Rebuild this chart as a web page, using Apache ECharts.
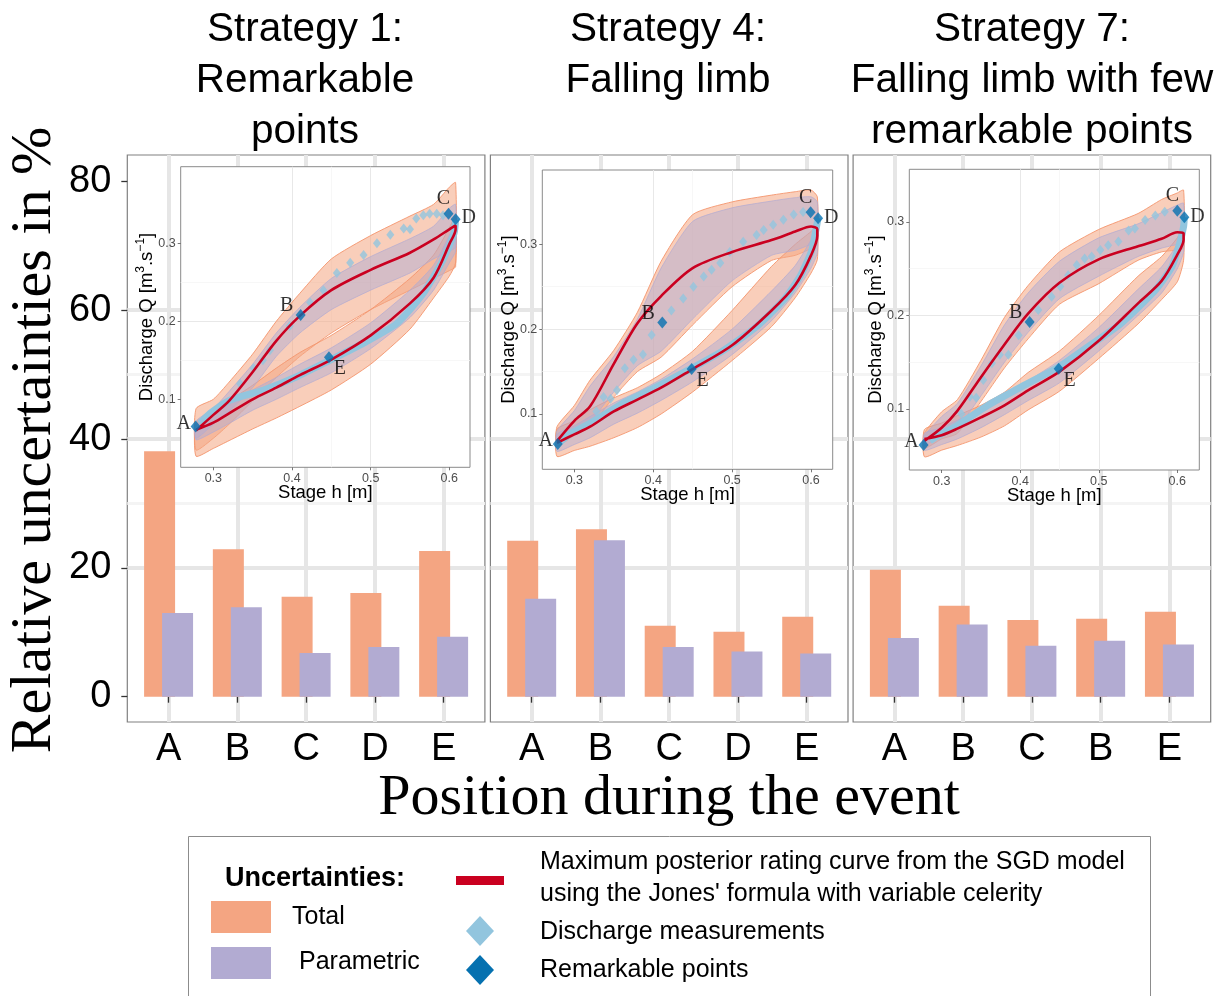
<!DOCTYPE html>
<html><head><meta charset="utf-8">
<script src="https://cdn.jsdelivr.net/npm/echarts@6/dist/echarts.min.js"></script>
<style>html,body{margin:0;padding:0;background:#fff}#c{width:1225px;height:996px}</style>
</head><body><div id="c"></div>
<script>
// ================= DATA =================
const categories = ['A','B','C','D','E'];
const tickLabels1 = ['A','B','C','D','E'];
const tickLabels4 = ['A','B','C','D','E'];
const tickLabels7 = ['A','B','C','B','E'];

const total1 = [38.1, 22.9, 15.5, 16.1, 22.6];
const param1 = [13.0, 13.9, 6.8, 7.7, 9.3];
const total4 = [24.2, 26.0, 11.0, 10.1, 12.4];
const param4 = [15.2, 24.3, 7.7, 7.0, 6.7];
const total7 = [19.7, 14.1, 11.9, 12.1, 13.2];
const param7 = [9.1, 11.2, 7.9, 8.7, 8.1];

const barTicks = [0, 20, 40, 60, 80];
const barMinorTicks = [10, 30, 50, 70];
const hTicks = [0.3, 0.4, 0.5, 0.6];
const hMinorTicks = [0.25, 0.35, 0.45, 0.55];
const qTicks = [0.1, 0.2, 0.3];
const qMinorTicks = [0.05, 0.15, 0.25, 0.35];

// stage grid used for rating curves and uncertainty bands (m)
const hGrid = [0.278, 0.30, 0.32, 0.35, 0.38, 0.41, 0.45, 0.50, 0.55, 0.58, 0.60, 0.608];

// ---- Strategy 1 inset ----
const redRise1   = [0.060, 0.080, 0.098, 0.135, 0.175, 0.207, 0.240, 0.266, 0.288, 0.305, 0.318, 0.323];
const redFall1   = [0.061, 0.070, 0.082, 0.100, 0.115, 0.131, 0.151, 0.182, 0.223, 0.256, 0.299, 0.318];
const totRiseLo1 = [0.035, 0.050, 0.068, 0.098, 0.128, 0.155, 0.185, 0.215, 0.240, 0.255, 0.265, 0.270];
const totRiseHi1 = [0.088, 0.100, 0.122, 0.158, 0.200, 0.236, 0.280, 0.310, 0.335, 0.350, 0.372, 0.378];
const parRiseLo1 = [0.050, 0.068, 0.085, 0.115, 0.155, 0.185, 0.215, 0.240, 0.262, 0.280, 0.290, 0.295];
const parRiseHi1 = [0.072, 0.088, 0.110, 0.145, 0.185, 0.218, 0.255, 0.283, 0.306, 0.322, 0.345, 0.350];
const totFallLo1 = [0.027, 0.037, 0.047, 0.062, 0.076, 0.091, 0.112, 0.145, 0.190, 0.230, 0.258, 0.275];
const totFallHi1 = [0.070, 0.085, 0.098, 0.118, 0.140, 0.160, 0.182, 0.215, 0.255, 0.285, 0.320, 0.335];
const parFallLo1 = [0.048, 0.058, 0.069, 0.086, 0.100, 0.115, 0.134, 0.165, 0.205, 0.240, 0.275, 0.290];
const parFallHi1 = [0.068, 0.080, 0.094, 0.112, 0.128, 0.145, 0.166, 0.198, 0.240, 0.272, 0.310, 0.326];
const measUpH1 = [0.290, 0.334, 0.351, 0.363, 0.372, 0.397, 0.423, 0.440, 0.457, 0.474, 0.491, 0.508, 0.525, 0.542, 0.550, 0.558, 0.567, 0.575, 0.584, 0.592];
const measUpQ1 = [0.075, 0.120, 0.140, 0.150, 0.163, 0.194, 0.224, 0.240, 0.262, 0.275, 0.285, 0.300, 0.311, 0.319, 0.318, 0.332, 0.336, 0.338, 0.338, 0.336];
const measDnH1 = [0.283, 0.296, 0.321, 0.364, 0.406, 0.448, 0.491, 0.533, 0.567, 0.592, 0.606, 0.608];
const measDnQ1 = [0.069, 0.082, 0.099, 0.112, 0.129, 0.150, 0.172, 0.197, 0.236, 0.279, 0.313, 0.330];
const remH1 = [0.2775, 0.411, 0.599, 0.608, 0.447];
const remQ1 = [0.065, 0.208, 0.338, 0.331, 0.154];

// ---- Strategy 4 inset ----
const redRise4   = [0.068, 0.092, 0.109, 0.159, 0.207, 0.239, 0.272, 0.291, 0.305, 0.315, 0.321, 0.318];
const redFall4   = [0.066, 0.076, 0.085, 0.103, 0.117, 0.131, 0.153, 0.181, 0.222, 0.252, 0.287, 0.310];
const totRiseLo4 = [0.062, 0.075, 0.085, 0.120, 0.150, 0.167, 0.205, 0.250, 0.281, 0.287, 0.295, 0.300];
const totRiseHi4 = [0.085, 0.110, 0.140, 0.175, 0.220, 0.280, 0.335, 0.350, 0.358, 0.362, 0.364, 0.356];
const parRiseLo4 = [0.066, 0.080, 0.091, 0.126, 0.157, 0.174, 0.212, 0.257, 0.287, 0.293, 0.300, 0.305];
const parRiseHi4 = [0.080, 0.104, 0.133, 0.168, 0.212, 0.272, 0.327, 0.343, 0.351, 0.355, 0.356, 0.350];
const totFallLo4 = [0.050, 0.057, 0.062, 0.072, 0.084, 0.100, 0.126, 0.163, 0.203, 0.237, 0.266, 0.282];
const totFallHi4 = [0.082, 0.092, 0.105, 0.119, 0.131, 0.147, 0.174, 0.222, 0.274, 0.300, 0.315, 0.322];
const parFallLo4 = [0.056, 0.064, 0.072, 0.088, 0.101, 0.116, 0.138, 0.170, 0.210, 0.243, 0.272, 0.290];
const parFallHi4 = [0.076, 0.086, 0.097, 0.113, 0.126, 0.141, 0.165, 0.200, 0.245, 0.275, 0.305, 0.318];
const measUpH4 = [0.328, 0.337, 0.346, 0.354, 0.364, 0.375, 0.387, 0.398, 0.423, 0.438, 0.451, 0.464, 0.474, 0.485, 0.497, 0.514, 0.531, 0.540, 0.552, 0.565, 0.578, 0.590];
const measUpQ4 = [0.103, 0.120, 0.118, 0.128, 0.154, 0.164, 0.170, 0.193, 0.222, 0.236, 0.250, 0.262, 0.270, 0.278, 0.291, 0.303, 0.311, 0.317, 0.323, 0.329, 0.335, 0.338];
const measDnH4 = [0.282, 0.295, 0.320, 0.362, 0.404, 0.449, 0.489, 0.531, 0.565, 0.586, 0.601, 0.607, 0.609];
const measDnQ4 = [0.067, 0.077, 0.089, 0.113, 0.132, 0.154, 0.175, 0.203, 0.234, 0.262, 0.293, 0.321, 0.331];
const remH4 = [0.279, 0.4115, 0.5995, 0.609, 0.4487];
const remQ4 = [0.0646, 0.2077, 0.3377, 0.3307, 0.153];

// ---- Strategy 7 inset ----
const redRise7   = [0.066, 0.080, 0.098, 0.134, 0.169, 0.202, 0.235, 0.260, 0.274, 0.282, 0.289, 0.288];
const redFall7   = [0.068, 0.072, 0.079, 0.091, 0.104, 0.120, 0.140, 0.173, 0.213, 0.237, 0.265, 0.281];
const totRiseLo7 = [0.058, 0.068, 0.074, 0.108, 0.144, 0.175, 0.212, 0.234, 0.259, 0.268, 0.270, 0.272];
const totRiseHi7 = [0.074, 0.097, 0.110, 0.152, 0.198, 0.232, 0.268, 0.292, 0.309, 0.324, 0.331, 0.334];
const parRiseLo7 = [0.061, 0.072, 0.080, 0.114, 0.150, 0.182, 0.218, 0.242, 0.263, 0.272, 0.276, 0.278];
const parRiseHi7 = [0.071, 0.092, 0.106, 0.146, 0.190, 0.224, 0.258, 0.283, 0.298, 0.310, 0.318, 0.320];
const totFallLo7 = [0.049, 0.056, 0.061, 0.070, 0.082, 0.099, 0.119, 0.154, 0.191, 0.217, 0.236, 0.259];
const totFallHi7 = [0.078, 0.085, 0.093, 0.104, 0.118, 0.139, 0.162, 0.200, 0.242, 0.263, 0.283, 0.295];
const parFallLo7 = [0.056, 0.062, 0.068, 0.080, 0.094, 0.109, 0.128, 0.162, 0.200, 0.224, 0.250, 0.268];
const parFallHi7 = [0.074, 0.080, 0.088, 0.099, 0.112, 0.130, 0.152, 0.187, 0.228, 0.252, 0.276, 0.290];
const measUpH7 = [0.325, 0.336, 0.344, 0.353, 0.364, 0.374, 0.385, 0.398, 0.423, 0.440, 0.451, 0.461, 0.472, 0.482, 0.491, 0.502, 0.512, 0.525, 0.538, 0.546, 0.559, 0.572, 0.584];
const measUpQ7 = [0.095, 0.113, 0.112, 0.131, 0.149, 0.158, 0.158, 0.179, 0.206, 0.220, 0.231, 0.243, 0.254, 0.261, 0.263, 0.270, 0.275, 0.279, 0.291, 0.293, 0.302, 0.307, 0.311];
const measDnH7 = [0.285, 0.292, 0.317, 0.359, 0.402, 0.449, 0.487, 0.529, 0.572, 0.593, 0.603, 0.608, 0.609];
const measDnQ7 = [0.066, 0.070, 0.081, 0.104, 0.124, 0.145, 0.167, 0.192, 0.227, 0.252, 0.277, 0.295, 0.305];
const remH7 = [0.277, 0.412, 0.600, 0.609, 0.449];
const remQ7 = [0.0615, 0.193, 0.312, 0.305, 0.143];

const remLetters = ['A','B','C','D','E'];

// ================= STYLE / LAYOUT =================
const C_TOTAL = '#f4a582', C_PARAM = '#b2abd2', C_RED = '#ca0020', C_LB = '#92c5de', C_DB = '#0571b0';
const SANS = 'Liberation Sans', SERIF = 'Liberation Serif';
const labelOffsets = { A: [-12, -3], B: [-14, -9], C: [-5, -15], D: [13, -1], E: [11, 12] };

const panels = [
  { title: 'Strategy 1:\nRemarkable\npoints', titleX: 305, bgLeft: 127.3, barLeft: 134.2,
    inset: { left: 180.7, top: 166.7, width: 289.3, height: 300.6 }, hRange: [0.2585, 0.6263], qRange: [0.0128, 0.3983],
    ticks: tickLabels1, total: total1, param: param1,
    d: { redRise: redRise1, redFall: redFall1, totRiseLo: totRiseLo1, totRiseHi: totRiseHi1, parRiseLo: parRiseLo1, parRiseHi: parRiseHi1,
         totFallLo: totFallLo1, totFallHi: totFallHi1, parFallLo: parFallLo1, parFallHi: parFallHi1,
         upH: measUpH1, upQ: measUpQ1, dnH: measDnH1, dnQ: measDnQ1, remH: remH1, remQ: remQ1 } },
  { title: 'Strategy 4:\nFalling limb', titleX: 668, bgLeft: 490.4, barLeft: 497.3,
    inset: { left: 542.3, top: 170, width: 290.4, height: 299.3 }, hRange: [0.2594, 0.6275], qRange: [0.0348, 0.3876],
    ticks: tickLabels4, total: total4, param: param4,
    d: { redRise: redRise4, redFall: redFall4, totRiseLo: totRiseLo4, totRiseHi: totRiseHi4, parRiseLo: parRiseLo4, parRiseHi: parRiseHi4,
         totFallLo: totFallLo4, totFallHi: totFallHi4, parFallLo: parFallLo4, parFallHi: parFallHi4,
         upH: measUpH4, upQ: measUpQ4, dnH: measDnH4, dnQ: measDnQ4, remH: remH4, remQ: remQ4 } },
  { title: 'Strategy 7:\nFalling limb with few\nremarkable points', titleX: 1032, bgLeft: 853.1, barLeft: 860.0,
    inset: { left: 909.3, top: 169.3, width: 290, height: 300.7 }, hRange: [0.2588, 0.628], qRange: [0.0348, 0.3563],
    ticks: tickLabels7, total: total7, param: param7,
    d: { redRise: redRise7, redFall: redFall7, totRiseLo: totRiseLo7, totRiseHi: totRiseHi7, parRiseLo: parRiseLo7, parRiseHi: parRiseHi7,
         totFallLo: totFallLo7, totFallHi: totFallHi7, parFallLo: parFallLo7, parFallHi: parFallHi7,
         upH: measUpH7, upQ: measUpQ7, dnH: measDnH7, dnQ: measDnQ7, remH: remH7, remQ: remQ7 } }
];
const PANEL_TOP = 155, PANEL_H = 567, PANEL_W = 357.6, BAR_W = 343.8;
const Y_RANGE = [-3.93, 84.1];

const grid = [], xAxis = [], yAxis = [], series = [], title = [];

function hiddenAxis(extra) {
  return Object.assign({ axisLine: { show: false }, axisTick: { show: false }, axisLabel: { show: false }, splitLine: { show: false } }, extra);
}

function band(xi, yi, lo, hi, fill, stroke, z) {
  return {
    type: 'custom', xAxisIndex: xi, yAxisIndex: yi, z: z, silent: true, clip: false,
    data: [[hGrid[0], lo[0]]],
    renderItem: function (params, api) {
      const pts = [];
      for (let i = 0; i < hGrid.length; i++) pts.push(api.coord([hGrid[i], lo[i]]));
      for (let i = hGrid.length - 1; i >= 0; i--) pts.push(api.coord([hGrid[i], hi[i]]));
      return { type: 'polygon', shape: { points: pts, smooth: 0.2 }, style: { fill: fill, stroke: stroke, lineWidth: 1 } };
    }
  };
}

panels.forEach(function (p, k) {
  // ---- background panel (border + horizontal grid) ----
  const gBg = grid.length;
  grid.push({ left: p.bgLeft, top: PANEL_TOP, width: PANEL_W, height: PANEL_H, show: true, borderColor: '#808080', borderWidth: 1.2, backgroundColor: '#fff', containLabel: false, outerBoundsMode: 'none', z: 0 });
  const xBg = xAxis.length;
  xAxis.push(hiddenAxis({ type: 'value', gridIndex: gBg, min: 0, max: 1, position: 'bottom' }));
  const yBgMinor = yAxis.length;
  yAxis.push({ type: 'value', gridIndex: gBg, min: Y_RANGE[0], max: Y_RANGE[1], z: 0, position: 'left', offset: 0,
    axisLine: { show: false }, axisLabel: { show: false, customValues: barMinorTicks },
    axisTick: { show: false, customValues: barMinorTicks },
    splitLine: { show: true, showMinLine: false, showMaxLine: false, lineStyle: { color: '#f4f4f4', width: 3 } } });
  const yBg = yAxis.length;
  yAxis.push({ type: 'value', gridIndex: gBg, min: Y_RANGE[0], max: Y_RANGE[1], z: 0, position: 'left', offset: 0,
    axisLine: { show: false },
    axisTick: { show: k === 0, length: 6, customValues: barTicks, lineStyle: { color: '#333', width: 1.3 } },
    axisLabel: { show: k === 0, customValues: barTicks, margin: 16, fontSize: 38, fontFamily: SANS, color: '#000', showMinLabel: true, showMaxLabel: true },
    splitLine: { show: true, showMinLine: false, showMaxLine: false, lineStyle: { color: '#e6e6e6', width: 4 } } });
  series.push({ type: 'line', xAxisIndex: xBg, yAxisIndex: yBg, data: [], silent: true });
  series.push({ type: 'line', xAxisIndex: xBg, yAxisIndex: yBgMinor, data: [], silent: true });

  // ---- bar grid ----
  const gBar = grid.length;
  grid.push({ left: p.barLeft, top: PANEL_TOP, width: BAR_W, height: PANEL_H, show: false, containLabel: false, outerBoundsMode: 'none' });
  const xBar = xAxis.length;
  const labels = p.ticks;
  xAxis.push({ type: 'category', gridIndex: gBar, data: categories, z: 1, position: 'bottom',
    axisLine: { show: false },
    axisTick: { show: true, alignWithLabel: true, length: 6, lineStyle: { color: '#333', width: 1.3 } },
    axisLabel: { margin: 9, fontSize: 38, fontFamily: SANS, color: '#000', formatter: function (v, i) { return labels[i]; } },
    splitLine: { show: true, alignWithLabel: true, lineStyle: { color: '#e6e6e6', width: 4 } } });
  const yBar = yAxis.length;
  yAxis.push(hiddenAxis({ type: 'value', gridIndex: gBar, min: Y_RANGE[0], max: Y_RANGE[1], position: 'left' }));
  series.push({ type: 'bar', name: 'Total', xAxisIndex: xBar, yAxisIndex: yBar, data: p.total, barWidth: 31, barGap: '-42%', itemStyle: { color: C_TOTAL }, z: 2, silent: true });
  series.push({ type: 'bar', name: 'Parametric', xAxisIndex: xBar, yAxisIndex: yBar, data: p.param, barWidth: 31, barGap: '-42%', itemStyle: { color: C_PARAM }, z: 2, silent: true });

  // ---- inset ----
  const gIn = grid.length;
  grid.push({ left: p.inset.left, top: p.inset.top, width: p.inset.width, height: p.inset.height, show: true,
    backgroundColor: '#fff', borderColor: '#8a8a8a', borderWidth: 1, containLabel: false, outerBoundsMode: 'none', z: 3 });
  const xInMinor = xAxis.length;
  xAxis.push({ type: 'value', gridIndex: gIn, min: p.hRange[0], max: p.hRange[1], z: 4, position: 'bottom', offset: 0,
    axisLine: { show: false }, axisLabel: { show: false, customValues: hMinorTicks }, axisTick: { show: false, customValues: hMinorTicks },
    splitLine: { show: true, showMinLine: false, showMaxLine: false, lineStyle: { color: '#f5f5f5', width: 0.8 } } });
  const xIn = xAxis.length;
  xAxis.push({ type: 'value', gridIndex: gIn, min: p.hRange[0], max: p.hRange[1], z: 4, position: 'bottom', offset: 0,
    name: 'Stage h [m]', nameLocation: 'middle', nameGap: 16, nameMoveOverlap: false,
    nameTextStyle: { fontSize: 18.5, fontFamily: SANS, color: '#000', verticalAlign: 'top' },
    axisLine: { show: false },
    axisTick: { show: true, length: 3, customValues: hTicks, lineStyle: { color: '#555', width: 0.8 } },
    axisLabel: { customValues: hTicks, margin: 5, fontSize: 12.5, fontFamily: SANS, color: '#4d4d4d', formatter: function (v) { return v.toFixed(1); } },
    splitLine: { show: true, showMinLine: false, showMaxLine: false, lineStyle: { color: '#e8e8e8', width: 1 } } });
  const yInMinor = yAxis.length;
  yAxis.push({ type: 'value', gridIndex: gIn, min: p.qRange[0], max: p.qRange[1], z: 4, position: 'left', offset: 0,
    axisLine: { show: false }, axisLabel: { show: false, customValues: qMinorTicks }, axisTick: { show: false, customValues: qMinorTicks },
    splitLine: { show: true, showMinLine: false, showMaxLine: false, lineStyle: { color: '#f5f5f5', width: 0.8 } } });
  const yIn = yAxis.length;
  yAxis.push({ type: 'value', gridIndex: gIn, min: p.qRange[0], max: p.qRange[1], z: 4, position: 'left', offset: 0,
    name: '{n|Discharge Q [m}{s|3}{n|.s}{s|\u22121}{n|]}', nameLocation: 'middle', nameRotate: 90, nameGap: 24, nameMoveOverlap: false,
    nameTextStyle: { fontFamily: SANS, color: '#000', verticalAlign: 'bottom',
      rich: { n: { fontSize: 18.5, fontFamily: SANS, color: '#000', lineHeight: 22, verticalAlign: 'bottom' },
              s: { fontSize: 12, fontFamily: SANS, color: '#000', lineHeight: 22, verticalAlign: 'top' } } },
    axisLine: { show: false },
    axisTick: { show: true, length: 3, customValues: qTicks, lineStyle: { color: '#555', width: 0.8 } },
    axisLabel: { customValues: qTicks, margin: 5, fontSize: 12.5, fontFamily: SANS, color: '#4d4d4d', formatter: function (v) { return v.toFixed(1); } },
    splitLine: { show: true, showMinLine: false, showMaxLine: false, lineStyle: { color: '#e8e8e8', width: 1 } } });
  series.push({ type: 'line', xAxisIndex: xInMinor, yAxisIndex: yInMinor, data: [], silent: true });

  const d = p.d;
  series.push(band(xIn, yIn, d.totRiseLo, d.totRiseHi, 'rgba(244,165,130,0.55)', 'rgba(244,150,110,0.9)', 5));
  series.push(band(xIn, yIn, d.totFallLo, d.totFallHi, 'rgba(244,165,130,0.55)', 'rgba(244,150,110,0.9)', 5));
  series.push(band(xIn, yIn, d.parRiseLo, d.parRiseHi, 'rgba(178,171,210,0.5)', 'rgba(178,171,210,0.7)', 5));
  series.push(band(xIn, yIn, d.parFallLo, d.parFallHi, 'rgba(178,171,210,0.5)', 'rgba(178,171,210,0.7)', 5));

  series.push({ type: 'line', xAxisIndex: xIn, yAxisIndex: yIn, z: 6, silent: true, showSymbol: false, smooth: 0.2,
    data: d.dnH.map(function (h, i) { return [h, d.dnQ[i]]; }), lineStyle: { color: C_LB, width: 7 } });
  series.push({ type: 'scatter', xAxisIndex: xIn, yAxisIndex: yIn, z: 6, silent: true, symbol: 'diamond', symbolSize: [8, 10],
    data: d.upH.map(function (h, i) { return [h, d.upQ[i]]; }), itemStyle: { color: C_LB } });

  const loop = hGrid.map(function (h, i) { return [h, d.redRise[i]]; })
    .concat(hGrid.map(function (h, i) { return [h, d.redFall[i]]; }).reverse());
  series.push({ type: 'line', xAxisIndex: xIn, yAxisIndex: yIn, z: 7, silent: true, showSymbol: false, smooth: 0.3,
    data: loop, lineStyle: { color: C_RED, width: 2.6 } });

  series.push({ type: 'scatter', xAxisIndex: xIn, yAxisIndex: yIn, z: 8, silent: true, symbol: 'diamond', symbolSize: [10, 12],
    itemStyle: { color: C_DB },
    label: { show: true, position: 'inside', formatter: '{b}', fontFamily: SERIF, fontSize: 20, color: '#000' },
    data: remLetters.map(function (L, i) { return { name: L, value: [d.remH[i], d.remQ[i]], label: { offset: labelOffsets[L] } }; }) });

  title.push({ text: p.title, left: p.titleX, top: 4, textAlign: 'center', padding: 0,
    textStyle: { fontFamily: SANS, fontSize: 40.5, fontWeight: 'normal', color: '#000', lineHeight: 51, align: 'center' } });
});

const graphic = [
  { type: 'text', x: 35, y: 440, rotation: Math.PI / 2, z: 10,
    style: { text: 'Relative uncertainties in %', font: '58px "Liberation Serif"', fill: '#000', align: 'center', verticalAlign: 'middle' } },
  { type: 'text', x: 669, y: 799, z: 10,
    style: { text: 'Position during the event', font: '58px "Liberation Serif"', fill: '#000', align: 'center', verticalAlign: 'middle' } },
  // legend
  { type: 'rect', z: 10, shape: { x: 188.5, y: 836.5, width: 962, height: 180 }, style: { fill: '#fff', stroke: '#8c8c8c', lineWidth: 1 } },
  { type: 'text', x: 225, y: 879, z: 11, style: { text: 'Uncertainties:', font: 'bold 27px "Liberation Sans"', fill: '#000', verticalAlign: 'middle' } },
  { type: 'rect', z: 11, shape: { x: 211, y: 901, width: 60, height: 32 }, style: { fill: C_TOTAL } },
  { type: 'text', x: 292, y: 917, z: 11, style: { text: 'Total', font: '25px "Liberation Sans"', fill: '#000', verticalAlign: 'middle' } },
  { type: 'rect', z: 11, shape: { x: 211, y: 947, width: 60, height: 32 }, style: { fill: C_PARAM } },
  { type: 'text', x: 299, y: 962, z: 11, style: { text: 'Parametric', font: '25px "Liberation Sans"', fill: '#000', verticalAlign: 'middle' } },
  { type: 'rect', z: 11, shape: { x: 456, y: 876, width: 48, height: 9 }, style: { fill: C_RED } },
  { type: 'text', x: 540, y: 862, z: 11, style: { text: 'Maximum posterior rating curve from the SGD model', font: '25px "Liberation Sans"', fill: '#000', verticalAlign: 'middle' } },
  { type: 'text', x: 540, y: 894, z: 11, style: { text: "using the Jones' formula with variable celerity", font: '25px "Liberation Sans"', fill: '#000', verticalAlign: 'middle' } },
  { type: 'polygon', z: 11, shape: { points: [[480, 916], [494, 931], [480, 946], [466, 931]] }, style: { fill: C_LB } },
  { type: 'text', x: 540, y: 932, z: 11, style: { text: 'Discharge measurements', font: '25px "Liberation Sans"', fill: '#000', verticalAlign: 'middle' } },
  { type: 'polygon', z: 11, shape: { points: [[480, 955], [494, 970], [480, 985], [466, 970]] }, style: { fill: C_DB } },
  { type: 'text', x: 540, y: 970, z: 11, style: { text: 'Remarkable points', font: '25px "Liberation Sans"', fill: '#000', verticalAlign: 'middle' } }
];

const chart = echarts.init(document.getElementById('c'), null, { renderer: 'canvas' });
chart.setOption({ backgroundColor: '#fff', animation: false, title: title, grid: grid, xAxis: xAxis, yAxis: yAxis, series: series, graphic: graphic });
</script></body></html>
